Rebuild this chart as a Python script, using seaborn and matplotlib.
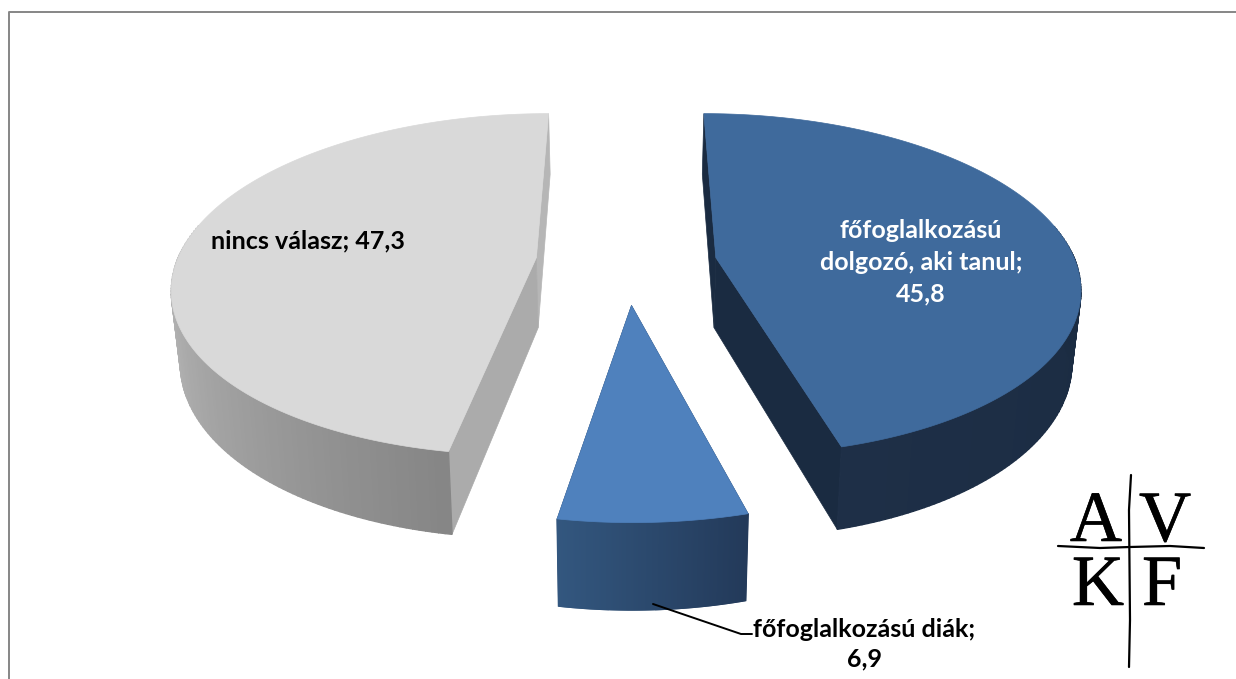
from __future__ import annotations

import matplotlib
matplotlib.use("Agg", force=True)
import matplotlib.patheffects as pe
import matplotlib.pyplot as plt
import numpy as np
import seaborn as sns

labels = ["főfoglalkozású\ndolgozó, aki tanul;\n45,8", "főfoglalkozású diák;\n6,9", "nincs válasz; 47,3"]
values = [45.8, 6.9, 47.3]
top_colors = ["#3f6a9c", "#4f81bd", "#d9d9d9"]
wall_colors = [["#1e2f47", "#1a2b41"], ["#33577f", "#233a5a"], ["#c4c4c4", "#868686"]]
cut_colors = ["#1a2b41", "#233a5a", "#ababab"]
# world offset of each exploded slice
offsets = [(0.248, 0.085), (0.012, -0.19), (-0.253, 0.085)]

START = 0.0
CX, CY = 627, 272
RX, RY = 363, 171
K = 0.158
DEPTH = 71
BOTTOM_X = 0.98


def project(u, v, low=False):
    w = 1 + K * v
    x = RX * u / w
    y = RY * v / w
    if low:
        return CX + x * BOTTOM_X, CY - y + DEPTH / w
    return CX + x, CY - y


def slice_xy(theta, off):
    th = np.radians(theta)
    return off[0] + np.sin(th), off[1] + np.cos(th)


def quad(ax, t0, t1, off, color):
    u0, v0 = slice_xy(t0, off)
    u1, v1 = slice_xy(t1, off)
    a = project(u0, v0)
    b = project(u1, v1)
    c = project(u1, v1, low=True)
    d = project(u0, v0, low=True)
    ax.fill([a[0], b[0], c[0], d[0]], [a[1], b[1], c[1], d[1]], color=color, lw=1.0)


def cut_wall(ax, theta, off, color):
    u, v = slice_xy(theta, off)
    a = project(off[0], off[1])
    b = project(u, v)
    c = project(u, v, low=True)
    d = project(off[0], off[1], low=True)
    ax.fill([a[0], b[0], c[0], d[0]], [a[1], b[1], c[1], d[1]], color=color, lw=0.5)


def draw_slice(ax, t0, t1, off, top, wall, cut, back_cut):
    cut_wall(ax, back_cut, off, cut if top != "#d9d9d9" else "#b6b6b6")
    other = t1 if back_cut == t0 else t0
    cut_wall(ax, other, off, cut)

    # outer wall, only the part that faces the viewer
    ts = np.linspace(t0, t1, 181)
    u, v = slice_xy(ts, off)
    front = [t for t in ts if 90 - 12 < (t % 360) < 270 + 12]
    if front:
        pal = sns.blend_palette(wall, n_colors=len(front) - 1)
        # gradient runs left to right on the screen
        order = sorted(front, key=lambda t: np.sin(np.radians(t)))
        for i, t in enumerate(order[:-1]):
            a, b = sorted([order[i], order[i + 1]])
            quad(ax, a, b, off, pal[i])

    x, y = project(u, v)
    ax0, ay0 = project(off[0], off[1])
    ax.fill(np.r_[ax0, x], np.r_[ay0, y], color=top, lw=0.5)


sns.set_theme(style="white")
plt.rcParams["font.family"] = ["Lato", "DejaVu Sans"]

fig = plt.figure(figsize=(12.36, 6.79), dpi=100)
ax = fig.add_axes([0, 0, 1, 1])
ax.set_xlim(0, 1236)
ax.set_ylim(679, 0)
ax.axis("off")

# chart frame, runs off the picture on three sides
ax.plot([8.5, 8.5, 1236], [679, 12, 12], color="#868686", lw=1.4)

sweeps = np.array(values) / sum(values) * 360
starts = START + np.r_[0, np.cumsum(sweeps)[:-1]]
draw_order = [2, 0, 1]
for i in draw_order:
    t0, t1 = starts[i], starts[i] + sweeps[i]
    back_cut = t1 if i == 2 else t0
    draw_slice(ax, t0, t1, offsets[i], top_colors[i], wall_colors[i], cut_colors[i], back_cut)

text_style = dict(fontweight="bold", fontsize=18, ha="center", va="center")
ax.text(921, 262, labels[0], color="white", linespacing=1.45, **text_style)
ax.text(864, 644, labels[1], color="black", linespacing=1.35, **text_style)
ax.text(308, 241, labels[2], color="black", **text_style)
ax.plot([653, 741, 752], [604, 634, 634], color="black", lw=1.4)

# AVKF logo
thick = [pe.withStroke(linewidth=0.4, foreground="black")]
logo = dict(family="Liberation Serif", fontsize=52, color="black", ha="center", va="baseline", path_effects=thick)
ax.text(1096, 541, "A", **logo)
ax.text(1165, 541, "V", **logo)
ax.text(1098, 605, "K", **logo)
ax.text(1162, 605, "F", **logo)
ax.plot([1131, 1129, 1130, 1129], [475, 510, 620, 667], color="black", lw=1.6)
ax.plot([1058, 1100, 1130, 1170, 1204], [546, 548, 547, 546, 548], color="black", lw=1.6)

fig.savefig("out.png", dpi=100)
